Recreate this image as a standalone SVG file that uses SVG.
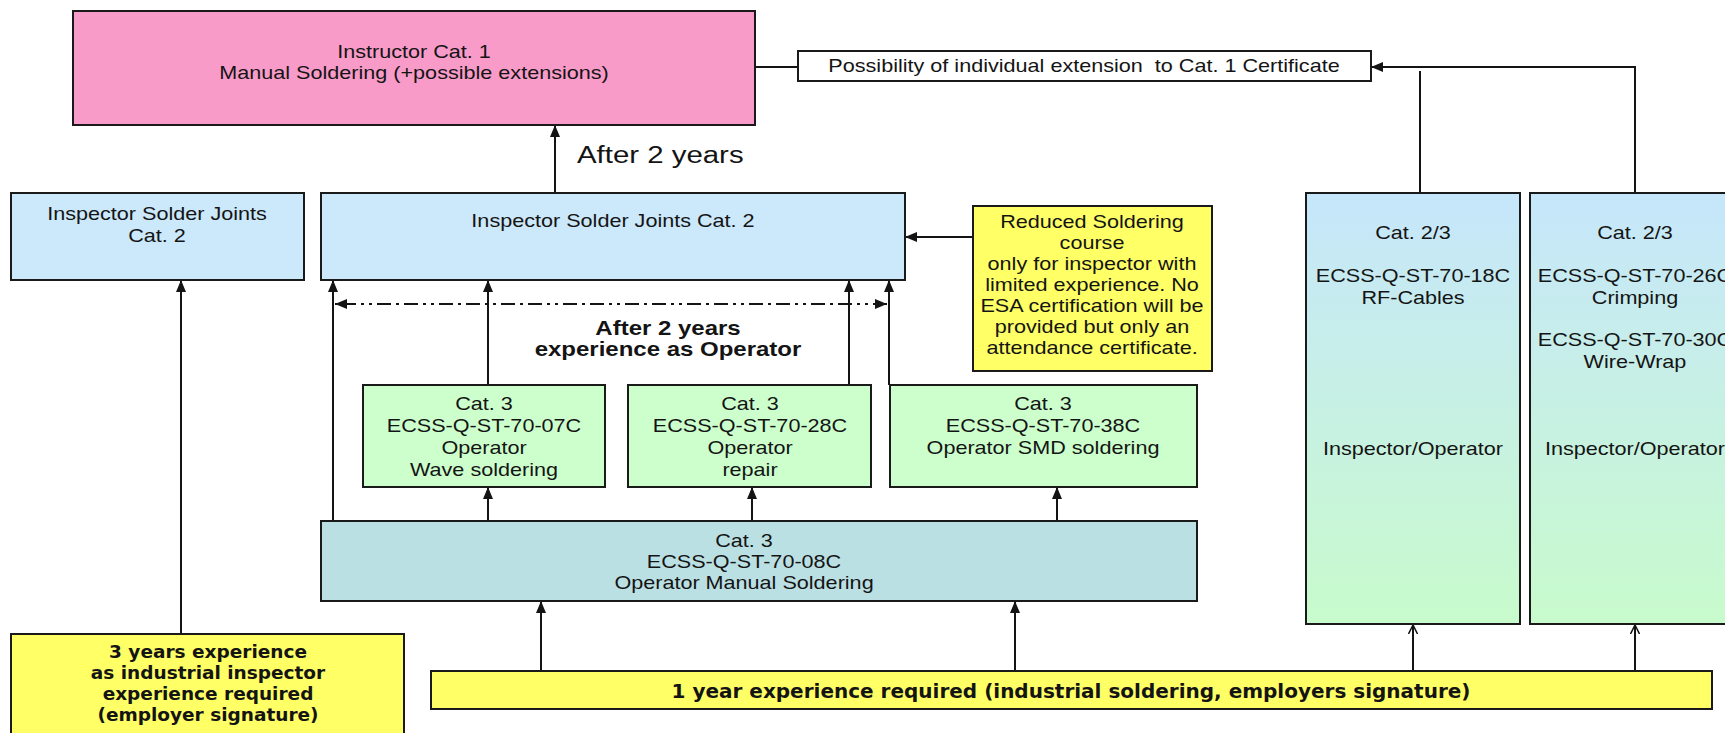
<svg xmlns="http://www.w3.org/2000/svg" width="1725" height="733" viewBox="0 0 1725 733">
<style>
.box{stroke:#1a1a1a;stroke-width:2}
.t{font-family:"Liberation Sans",Arial,sans-serif;font-size:18px;fill:#141414;text-anchor:middle}
.tb{font-family:"Liberation Sans",Arial,sans-serif;font-size:20px;font-weight:bold;fill:#141414;text-anchor:middle}
.v{font-family:"DejaVu Sans",Verdana,sans-serif;font-weight:bold;fill:#141414;text-anchor:middle}
.ln{stroke:#141414;stroke-width:2;fill:none}
.ar{marker-end:url(#ah)}
.op{marker-end:url(#oh)}
</style>
<defs>
<marker id="ah" viewBox="0 0 12 10" refX="12" refY="5" markerWidth="12" markerHeight="10" markerUnits="userSpaceOnUse" orient="auto-start-reverse"><path d="M0,0 L12,5 L0,10 z" fill="#141414"/></marker>
<marker id="oh" viewBox="0 0 10 10" refX="9" refY="5" markerWidth="10" markerHeight="10" markerUnits="userSpaceOnUse" orient="auto"><path d="M0,0.5 L9,5 L0,9.5" fill="none" stroke="#141414" stroke-width="1.5"/></marker>
<linearGradient id="gbg" x1="0" y1="0" x2="0" y2="1"><stop offset="0" stop-color="#c6e6fb"/><stop offset="1" stop-color="#c8fbcc"/></linearGradient>
</defs>
<rect width="1725" height="733" fill="#ffffff"/>

<g id="connectors">
<line class="ln" x1="755" y1="67" x2="798" y2="67"/>
<path class="ln ar" d="M1635,193 V67 H1371"/>
<line class="ln" x1="1420" y1="193" x2="1420" y2="71"/>
<line class="ln ar" x1="555" y1="193" x2="555" y2="125"/>
<line class="ln ar" x1="181" y1="634" x2="181" y2="280"/>
<line class="ln ar" x1="333" y1="521" x2="333" y2="280"/>
<line class="ln" x1="887" y1="304" x2="335" y2="304" stroke-dasharray="14 5 3 5 3 5 14 5 3 5" marker-start="url(#ah)" marker-end="url(#ah)"/>
<line class="ln ar" x1="488" y1="385" x2="488" y2="280"/>
<line class="ln ar" x1="849" y1="385" x2="849" y2="280"/>
<line class="ln ar" x1="889" y1="385" x2="889" y2="280"/>
<line class="ln ar" x1="973" y1="237" x2="905" y2="237"/>
<line class="ln ar" x1="488" y1="521" x2="488" y2="487"/>
<line class="ln ar" x1="752" y1="521" x2="752" y2="487"/>
<line class="ln ar" x1="1057" y1="521" x2="1057" y2="487"/>
<line class="ln ar" x1="541" y1="671" x2="541" y2="601"/>
<line class="ln ar" x1="1015" y1="671" x2="1015" y2="601"/>
<line class="ln op" x1="1413" y1="671" x2="1413" y2="625"/>
<line class="ln op" x1="1635" y1="671" x2="1635" y2="625"/>
<g transform="translate(577 0) scale(1.2 1)"><text class="t" x="0" y="163" style="text-anchor:start;font-size:24.5px">After 2 years</text></g>
<g transform="translate(668 0) scale(1.2 1)"><text class="tb" x="0" y="335">After 2 years</text><text class="tb" x="0" y="356">experience as Operator</text></g>
</g>

<g id="instructor">
<rect class="box" x="73" y="11" width="682" height="114" fill="#f99bc9"/>
<g transform="translate(414 0) scale(1.2 1)"><text class="t" x="0" y="58">Instructor Cat. 1</text><text class="t" x="0" y="79">Manual Soldering (+possible extensions)</text></g>
</g>

<g id="extension">
<rect class="box" x="798" y="51" width="573" height="30" fill="#ffffff"/>
<g transform="translate(1084 0) scale(1.2 1)"><text class="t" x="0" y="72" style="white-space:pre">Possibility of individual extension  to Cat. 1 Certificate</text></g>
</g>

<g id="inspector1">
<rect class="box" x="11" y="193" width="293" height="87" fill="#cce8fb"/>
<g transform="translate(157 0) scale(1.2 1)"><text class="t" x="0" y="220">Inspector Solder Joints</text><text class="t" x="0" y="242">Cat. 2</text></g>
</g>

<g id="inspector2">
<rect class="box" x="321" y="193" width="584" height="87" fill="#cce8fb"/>
<g transform="translate(613 0) scale(1.2 1)"><text class="t" x="0" y="227">Inspector Solder Joints Cat. 2</text></g>
</g>

<g id="reduced">
<rect class="box" x="973" y="206" width="239" height="165" fill="#ffff66"/>
<g transform="translate(1092 0) scale(1.2 1)">
<text class="t" x="0" y="228">Reduced Soldering</text>
<text class="t" x="0" y="249">course</text>
<text class="t" x="0" y="270">only for inspector with</text>
<text class="t" x="0" y="291">limited experience. No</text>
<text class="t" x="0" y="312">ESA certification will be</text>
<text class="t" x="0" y="333">provided but only an</text>
<text class="t" x="0" y="354">attendance certificate.</text>
</g>
</g>

<g id="wave">
<rect class="box" x="363" y="385" width="242" height="102" fill="#ccffcc"/>
<g transform="translate(484 0) scale(1.2 1)"><text class="t" x="0" y="410">Cat. 3</text><text class="t" x="0" y="432">ECSS-Q-ST-70-07C</text><text class="t" x="0" y="454">Operator</text><text class="t" x="0" y="476">Wave soldering</text></g>
</g>

<g id="repair">
<rect class="box" x="628" y="385" width="243" height="102" fill="#ccffcc"/>
<g transform="translate(750 0) scale(1.2 1)"><text class="t" x="0" y="410">Cat. 3</text><text class="t" x="0" y="432">ECSS-Q-ST-70-28C</text><text class="t" x="0" y="454">Operator</text><text class="t" x="0" y="476">repair</text></g>
</g>

<g id="smd">
<rect class="box" x="890" y="385" width="307" height="102" fill="#ccffcc"/>
<g transform="translate(1043 0) scale(1.2 1)"><text class="t" x="0" y="410">Cat. 3</text><text class="t" x="0" y="432">ECSS-Q-ST-70-38C</text><text class="t" x="0" y="454">Operator SMD soldering</text></g>
</g>

<g id="manual">
<rect class="box" x="321" y="521" width="876" height="80" fill="#bbe0e4"/>
<g transform="translate(744 0) scale(1.2 1)"><text class="t" x="0" y="547">Cat. 3</text><text class="t" x="0" y="568">ECSS-Q-ST-70-08C</text><text class="t" x="0" y="589">Operator Manual Soldering</text></g>
</g>

<g id="rf">
<rect class="box" x="1306" y="193" width="214" height="431" fill="url(#gbg)"/>
<g transform="translate(1413 0) scale(1.2 1)"><text class="t" x="0" y="239">Cat. 2/3</text><text class="t" x="0" y="282">ECSS-Q-ST-70-18C</text><text class="t" x="0" y="304">RF-Cables</text><text class="t" x="0" y="455">Inspector/Operator</text></g>
</g>

<g id="crimp">
<rect class="box" x="1530" y="193" width="230" height="431" fill="url(#gbg)"/>
<g transform="translate(1635 0) scale(1.2 1)"><text class="t" x="0" y="239">Cat. 2/3</text><text class="t" x="0" y="282">ECSS-Q-ST-70-26C</text><text class="t" x="0" y="304">Crimping</text><text class="t" x="0" y="346">ECSS-Q-ST-70-30C</text><text class="t" x="0" y="368">Wire-Wrap</text><text class="t" x="0" y="455">Inspector/Operator</text></g>
</g>

<g id="req3years">
<rect class="box" x="11" y="634" width="393" height="112" fill="#ffff66"/>
<text class="v" x="208" y="658" style="font-size:18.5px">3 years experience</text>
<text class="v" x="208" y="679" style="font-size:18.5px">as industrial inspector</text>
<text class="v" x="208" y="700" style="font-size:18.5px">experience required</text>
<text class="v" x="208" y="721" style="font-size:18.5px">(employer signature)</text>
</g>

<g id="req1year">
<rect class="box" x="431" y="671" width="1281" height="38" fill="#ffff66"/>
<text class="v" x="1071" y="698" style="font-size:20px">1 year experience required (industrial soldering, employers signature)</text>
</g>
</svg>
